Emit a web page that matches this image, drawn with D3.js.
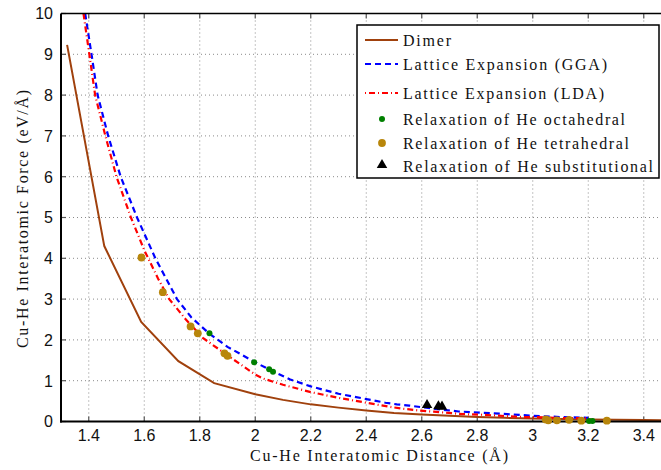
<!DOCTYPE html>
<html><head><meta charset="utf-8">
<script src="https://cdn.jsdelivr.net/npm/d3@7"></script>
<style>body{margin:0;background:#fff}svg{display:block}</style>
</head><body>
<script>
// ---- data ----
const xTicks = [1.4,1.6,1.8,2,2.2,2.4,2.6,2.8,3,3.2,3.4];
const xTickLabels = ["1.4","1.6","1.8","2","2.2","2.4","2.6","2.8","3","3.2","3.4"];
const yTicks = [0,1,2,3,4,5,6,7,8,9,10];
const yTickLabels = ["0","1","2","3","4","5","6","7","8","9","10"];

const dimerX = [1.322,1.456,1.589,1.723,1.852,2.0,2.1,2.2,2.3,2.4,2.5,2.6,2.7,2.8,2.9,3.0,3.1,3.2,3.3,3.4,3.5,3.6];
const dimerY = [9.23,4.30,2.44,1.48,0.94,0.67,0.53,0.42,0.34,0.27,0.21,0.17,0.14,0.11,0.09,0.075,0.06,0.05,0.042,0.035,0.03,0.025];

const ggaX = [1.387,1.41,1.432,1.47,1.515,1.574,1.64,1.718,1.77,1.835,1.9,2.0,2.06,2.126,2.2,2.3,2.4,2.469,2.51,2.555,2.6,2.649,2.687,2.733,2.775,2.817,2.861,2.907,3.0,3.1,3.2];
const ggaY = [10,9,8,7,6,5,4,3,2.55,2.15,1.83,1.45,1.24,1.03,0.86,0.68,0.55,0.46,0.42,0.39,0.35,0.31,0.28,0.245,0.23,0.215,0.2,0.18,0.14,0.11,0.09];

const ldaX = [1.381,1.40,1.423,1.46,1.50,1.552,1.60,1.65,1.69,1.75,1.811,1.9,2.0,2.03,2.1,2.2,2.3,2.4,2.484,2.537,2.589,2.643,2.697,2.75,2.805,2.857,2.961,3.015,3.075,3.125,3.18,3.2];
const ldaY = [10,9.1,8.0,7.0,6.0,5.0,4.2,3.5,3.0,2.5,2.05,1.62,1.15,1.05,0.9,0.72,0.58,0.46,0.36,0.31,0.27,0.24,0.21,0.18,0.17,0.15,0.11,0.105,0.09,0.08,0.085,0.08];

const octX = [1.835,1.996,2.05,2.064,3.203,3.215];
const octY = [2.16,1.45,1.28,1.22,0.015,0.015];

const tetX = [1.59,1.667,1.767,1.793,1.889,1.90,3.047,3.056,3.087,3.131,3.175,3.267];
const tetY = [4.02,3.17,2.33,2.16,1.67,1.61,0.05,0.03,0.03,0.04,0.02,0.02];

const subX = [2.619,2.66,2.673];
const subY = [0.38,0.35,0.34];

const legendLabels = ["Dimer","Lattice Expansion (GGA)","Lattice Expansion (LDA)","Relaxation of He octahedral","Relaxation of He tetrahedral","Relaxation of He substitutional"];

// ---- chart ----
const W = 661, H = 470;
const svg = d3.select("body").append("svg").attr("width", W).attr("height", H);
const x = d3.scaleLinear().domain([1.3, 3.6]).range([61, 699.25]);
const y = d3.scaleLinear().domain([0, 10]).range([421.5, 13.5]);

const gridC = "#8a8a8a";
// grid
svg.append("g").selectAll("line").data(xTicks).join("line")
  .attr("x1", d => x(d)).attr("x2", d => x(d)).attr("y1", y(0)).attr("y2", y(10))
  .attr("stroke", gridC).attr("stroke-width", 1).attr("stroke-dasharray", "1,3");
svg.append("g").selectAll("line").data(yTicks.slice(1, -1)).join("line")
  .attr("x1", x(1.3)).attr("x2", W).attr("y1", d => y(d)).attr("y2", d => y(d))
  .attr("stroke", gridC).attr("stroke-width", 1).attr("stroke-dasharray", "1,3");

// inner ticks
const tickC = "#555";
svg.append("g").selectAll("line").data(xTicks).join("line")
  .attr("x1", d => x(d)).attr("x2", d => x(d)).attr("y1", y(0)).attr("y2", y(0) - 5)
  .attr("stroke", tickC).attr("stroke-width", 1.2);
svg.append("g").selectAll("line").data(xTicks).join("line")
  .attr("x1", d => x(d)).attr("x2", d => x(d)).attr("y1", y(10)).attr("y2", y(10) + 5)
  .attr("stroke", tickC).attr("stroke-width", 1.2);
svg.append("g").selectAll("line").data(yTicks).join("line")
  .attr("x1", x(1.3)).attr("x2", x(1.3) + 5).attr("y1", d => y(d)).attr("y2", d => y(d))
  .attr("stroke", tickC).attr("stroke-width", 1.2);

// clip for lines
svg.append("clipPath").attr("id", "clip").append("rect")
  .attr("x", x(1.3)).attr("y", y(10)).attr("width", W - x(1.3)).attr("height", y(0) - y(10));
const plot = svg.append("g").attr("clip-path", "url(#clip)");

const line = d3.line().x(d => x(d[0])).y(d => y(d[1]));
const zip = (a, b) => a.map((v, i) => [v, b[i]]);

plot.append("path").attr("d", line(zip(dimerX, dimerY)))
  .attr("fill", "none").attr("stroke", "#a0410d").attr("stroke-width", 2);
plot.append("path").attr("d", line(zip(ggaX, ggaY)))
  .attr("fill", "none").attr("stroke", "#0000ff").attr("stroke-width", 2.2).attr("stroke-dasharray", "6,4");
plot.append("path").attr("d", line(zip(ldaX, ldaY)))
  .attr("fill", "none").attr("stroke", "#ff0000").attr("stroke-width", 2.2).attr("stroke-dasharray", "6,3,1,3");

// axes borders
svg.append("line").attr("x1", x(1.3)).attr("x2", x(1.3)).attr("y1", y(10)).attr("y2", y(0) + 1)
  .attr("stroke", "#000").attr("stroke-width", 2);
svg.append("line").attr("x1", x(1.3) - 1).attr("x2", W).attr("y1", y(0)).attr("y2", y(0))
  .attr("stroke", "#000").attr("stroke-width", 2.2);
svg.append("line").attr("x1", x(1.3)).attr("x2", W).attr("y1", y(10)).attr("y2", y(10))
  .attr("stroke", "#000").attr("stroke-width", 1.3);

// markers (not clipped, over the axes)
const marks = svg.append("g");
marks.append("g").selectAll("circle").data(zip(octX, octY)).join("circle")
  .attr("cx", d => x(d[0])).attr("cy", d => y(d[1])).attr("r", 3).attr("fill", "#008000");
marks.append("g").selectAll("circle").data(zip(tetX, tetY)).join("circle")
  .attr("cx", d => x(d[0])).attr("cy", d => y(d[1])).attr("r", 3.9).attr("fill", "#b8860b");
const tri = d3.symbol().type(d3.symbolTriangle).size(48);
marks.append("g").selectAll("path").data(zip(subX, subY)).join("path")
  .attr("transform", d => `translate(${x(d[0])},${y(d[1]) - 1})`).attr("d", tri).attr("fill", "#000");

// tick labels
const sans = "'Liberation Sans', Arial, sans-serif";
svg.append("g").selectAll("text").data(xTicks).join("text")
  .attr("x", d => x(d)).attr("y", 441).attr("text-anchor", "middle")
  .attr("font-family", sans).attr("font-size", 16).attr("fill", "#111")
  .text((d, i) => xTickLabels[i]);
svg.append("g").selectAll("text").data(yTicks).join("text")
  .attr("x", 53).attr("y", d => y(d) + 5.8).attr("text-anchor", "end")
  .attr("font-family", sans).attr("font-size", 16).attr("fill", "#111")
  .text((d, i) => yTickLabels[i]);

// axis titles
const serif = "'Liberation Serif', 'Times New Roman', serif";
svg.append("text").attr("x", 379).attr("y", 461).attr("text-anchor", "middle")
  .attr("font-family", serif).attr("font-size", 16).attr("fill", "#111")
  .attr("textLength", 258).attr("lengthAdjust", "spacing")
  .text("Cu-He Interatomic Distance (Å)");
svg.append("text").attr("transform", "translate(28,219) rotate(-90)").attr("text-anchor", "middle")
  .attr("font-family", serif).attr("font-size", 16).attr("fill", "#111")
  .attr("textLength", 258).attr("lengthAdjust", "spacing")
  .text("Cu-He Interatomic Force (eV/Å)");

// legend
const lg = svg.append("g");
lg.append("rect").attr("x", 357).attr("y", 25).attr("width", 302).attr("height", 153)
  .attr("fill", "#fff").attr("stroke", "#000").attr("stroke-width", 1.5);
const ly = [40, 64, 93, 119, 143, 166];
const lw = [48, 204, 201, 222, 226, 250];
lg.selectAll("text").data(legendLabels).join("text")
  .attr("x", 403).attr("y", (d, i) => ly[i] + 5.5)
  .attr("font-family", serif).attr("font-size", 16).attr("fill", "#111")
  .attr("textLength", (d, i) => lw[i]).attr("lengthAdjust", "spacing")
  .text(d => d);
lg.append("line").attr("x1", 365).attr("x2", 398).attr("y1", ly[0]).attr("y2", ly[0])
  .attr("stroke", "#a0410d").attr("stroke-width", 2);
lg.append("line").attr("x1", 365).attr("x2", 398).attr("y1", ly[1]).attr("y2", ly[1])
  .attr("stroke", "#0000ff").attr("stroke-width", 2.2).attr("stroke-dasharray", "6,4");
lg.append("line").attr("x1", 365).attr("x2", 398).attr("y1", ly[2]).attr("y2", ly[2])
  .attr("stroke", "#ff0000").attr("stroke-width", 2.2).attr("stroke-dasharray", "1,3,6,3");
lg.append("circle").attr("cx", 382).attr("cy", ly[3]).attr("r", 3).attr("fill", "#008000");
lg.append("circle").attr("cx", 382).attr("cy", ly[4]).attr("r", 3.9).attr("fill", "#b8860b");
lg.append("path").attr("transform", `translate(382,${ly[5] - 1})`).attr("d", tri).attr("fill", "#000");
</script>
</body></html>
